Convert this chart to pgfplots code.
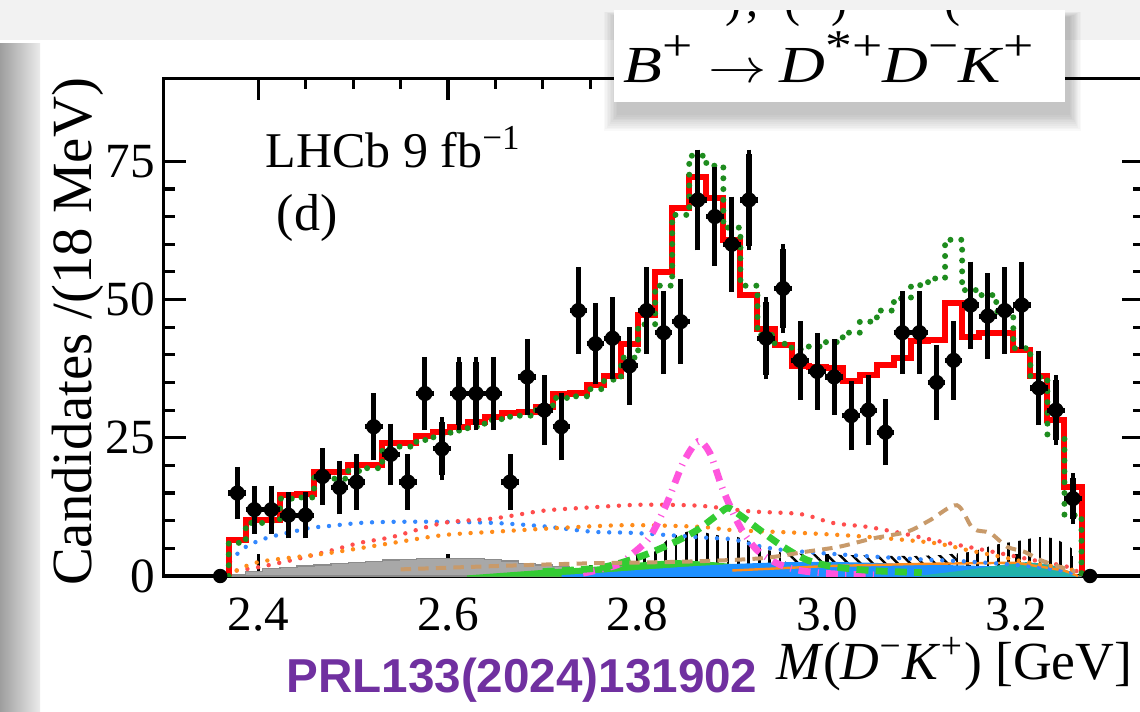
\documentclass[border=0pt]{standalone}
\usepackage{pgfplots}
\pgfplotsset{compat=1.18}
\usepackage{pgfplotstable}
\usepackage{fontspec}
\setmainfont{Liberation Serif}
\newfontfamily\sansfam{Liberation Sans}
\usetikzlibrary{patterns.meta}
\definecolor{fitred}{HTML}{FF0000}
\definecolor{altgreen}{HTML}{1E8C1E}
\definecolor{bluedot}{HTML}{3388FF}
\definecolor{reddot}{HTML}{FF4D4D}
\definecolor{orangedot}{HTML}{FF8C1A}
\definecolor{magdash}{HTML}{FF55DD}
\definecolor{limedash}{HTML}{33CC33}
\definecolor{browndash}{HTML}{C89A6A}
\definecolor{grayfill}{HTML}{A8A8A8}
\definecolor{bluefill}{HTML}{1E90FF}
\definecolor{tealfill}{HTML}{20B2AA}
\definecolor{prlpurple}{HTML}{7030A0}
\def\u{0.25bp}
\newcommand\sups[1]{\raisebox{0.42em}{\fontsize{11bp}{10bp}\selectfont #1}}

\pgfdeclareplotmark{datapt}{%
  \pgfpathcircle{\pgfpointorigin}{\pgfplotmarksize}\pgfusepathqfill
  \pgfpathmoveto{\pgfqpoint{-2.2bp}{0pt}}\pgfpathlineto{\pgfqpoint{2.2bp}{0pt}}\pgfusepathqstroke}

\pgfplotstableread{
e red grn gry
2.3686 0 0 0
2.3686 6.5 6.0 0.3
2.3866 10.1 9.6 0.8
2.4046 10.1 9.8 1.3
2.4226 14.7 14.0 1.6
2.4406 14.8 14.2 1.8
2.4586 18.8 17.8 2.0
2.4766 18.9 17.6 2.2
2.4946 20.1 19.0 2.4
2.5126 20.1 19.5 2.6
2.5306 24.0 23.2 2.9
2.5486 24.0 23.4 3.0
2.5666 25.3 24.6 3.1
2.5846 26.1 25.4 3.2
2.6026 27.0 26.3 3.2
2.6206 27.8 27.0 3.1
2.6386 28.8 28.2 3.0
2.6566 29.5 28.8 2.7
2.6746 29.6 29.0 2.3
2.6926 30.6 30.0 2.0
2.7106 33.0 32.2 1.7
2.7286 33.1 32.5 1.4
2.7466 34.6 33.8 1.2
2.7646 36.2 35.5 1.0
2.7826 42.0 39.5 0.8
2.8006 47.2 45.5 0.6
2.8186 55.0 52.5 0.4
2.8366 66.5 65.3 0.2
2.8546 72.2 76.0 0
2.8726 68.3 74.2 0
2.8906 60.8 63.0 0
2.9086 50.8 52.5 0
2.9266 44.6 43.6 0
2.9446 41.7 42.0 0
2.9626 37.9 41.0 0
2.9806 37.8 41.5 0
2.9986 37.7 42.3 0
3.0166 35.2 44.0 0
3.0346 36.3 46.0 0
3.0526 38.2 48.0 0
3.0706 39.4 50.2 0
3.0886 42.5 52.6 0
3.1066 42.7 53.8 0
3.1246 49.3 60.8 0
3.1426 43.2 51.7 0
3.1606 43.9 50.8 0
3.1786 43.9 47.8 0
3.1966 40.9 41.2 0
3.2146 36.2 36.0 0
3.2326 28.3 25.2 0
3.2506 16.1 11.0 0
3.2686 0 0 0
}\modeltab

\pgfplotstableread{
x y ey
2.3776 15 3.87
2.3956 12 3.46
2.4136 12 3.46
2.4316 11 3.32
2.4496 11 3.32
2.4676 18 4.24
2.4856 16 4.00
2.5036 17 4.12
2.5216 27 5.20
2.5396 22 4.69
2.5576 17 4.12
2.5756 33 5.74
2.5936 23 4.80
2.6116 33 5.74
2.6296 33 5.74
2.6476 33 5.74
2.6656 17 4.12
2.6836 36 6.00
2.7016 30 5.48
2.7196 27 5.20
2.7376 48 6.93
2.7556 42 6.48
2.7736 43 6.56
2.7916 38 6.16
2.8096 48 6.93
2.8276 44 6.63
2.8456 46 6.78
2.8636 68 8.25
2.8816 65 8.06
2.8996 60 7.75
2.9176 68 8.25
2.9356 43 6.56
2.9536 52 7.21
2.9716 39 6.24
2.9896 37 6.08
3.0076 36 6.00
3.0256 29 5.39
3.0436 30 5.48
3.0616 26 5.10
3.0796 44 6.63
3.0976 44 6.63
3.1156 35 5.92
3.1336 39 6.24
3.1516 49 7.00
3.1696 47 6.86
3.1876 48 6.93
3.2056 49 7.00
3.2236 34 5.83
3.2416 30 5.48
3.2596 14 3.74
}\datatab

\pgfplotstableread{
x y
2.370 2.6
2.384 5.0
2.402 6.5
2.420 7.4
2.436 8.0
2.454 8.7
2.472 9.0
2.507 9.6
2.542 9.8
2.595 9.8
2.648 9.6
2.700 9.0
2.753 8.0
2.795 7.8
2.866 7.0
2.901 6.6
2.926 5.5
2.954 4.7
3.006 4.0
3.050 3.5
3.100 3.0
3.150 2.6
3.200 2.0
3.240 1.2
3.268 0.2
}\bluetab

\pgfplotstableread{
x y
2.377 1.0
2.400 1.6
2.436 2.9
2.472 4.4
2.507 6.0
2.542 7.1
2.595 9.6
2.648 10.4
2.700 11.8
2.740 12.3
2.789 12.8
2.813 12.9
2.866 12.7
2.919 11.7
2.972 11.2
3.006 9.6
3.042 8.9
3.077 7.8
3.112 6.5
3.148 5.3
3.183 4.1
3.217 2.9
3.253 1.7
3.267 0.5
}\reddottab

\pgfplotstableread{
x y
2.377 1.0
2.402 2.6
2.472 4.1
2.542 6.0
2.595 7.4
2.648 8.0
2.718 8.7
2.789 9.2
2.866 8.9
2.901 8.3
2.972 7.8
3.042 7.1
3.112 6.0
3.148 4.7
3.183 3.5
3.217 2.3
3.253 1.4
3.267 0.5
}\orangetab

\pgfplotstableread{
x y
2.7425 0.5
2.7784 2.0
2.7953 4.1
2.8132 7.1
2.8311 13.2
2.8480 20.4
2.8638 24.3
2.8765 22.2
2.8902 15.6
2.9082 8.9
2.9261 4.7
2.9472 2.3
2.9715 1.0
3.0064 0.4
3.0500 0.2
}\magtab

\pgfplotstableread{
x y
2.7000 0.8
2.7604 1.5
2.8027 3.5
2.8375 6.0
2.8628 8.3
2.8839 11.0
2.8955 12.3
2.9082 11.0
2.9293 8.3
2.9536 5.3
2.9789 2.9
3.0064 1.7
3.0454 1.0
3.1000 0.6
}\limetab

\pgfplotstableread{
x y
2.550 1.2
2.650 1.8
2.750 2.3
2.850 2.6
2.930 3.2
2.978 4.4
3.013 5.3
3.0485 6.8
3.0844 8.0
3.1087 10.1
3.137 12.8
3.154 8.6
3.172 7.8
3.190 5.3
3.208 4.4
3.225 2.9
3.245 1.7
3.262 0.8
}\browntab

\pgfplotstableread{
x y
2.780 0
2.785 2.0
2.800 2.8
2.8097 3.5
2.8203 4.7
2.8308 6.5
2.8414 7.4
2.8519 8.0
2.8625 8.3
2.8730 7.8
2.8836 7.4
2.8941 7.1
2.9047 7.1
2.9153 6.5
2.9258 5.6
2.9364 4.7
2.9575 4.1
2.9600 0
}\hatchA

\pgfplotstableread{
x y
2.956 0
2.956 4.1
3.000 3.9
3.050 3.7
3.090 3.6
3.120 3.8
3.138 4.1
3.138 0
}\hatchB

\pgfplotstableread{
x y
3.136 0
3.137 4.1
3.154 4.4
3.1755 5.6
3.1966 6.2
3.2072 6.5
3.2177 6.9
3.2283 7.1
3.2400 6.8
3.2494 6.0
3.2583 5.0
3.2620 0
}\hatchC

\pgfplotstableread{
x y
2.62 0
2.66 0.5
2.70 1.0
2.75 1.5
2.80 2.3
2.84 2.8
2.88 2.4
2.92 1.7
2.96 1.0
3.00 0.6
3.10 0.4
3.20 0.4
3.26 0
}\greenfilltab

\pgfplotstableread{
x y
2.72 0
2.76 0.4
2.80 0.9
2.85 1.5
2.90 2.0
2.95 2.3
3.00 2.4
3.05 2.2
3.10 1.9
3.15 1.7
3.20 1.5
3.24 0.8
3.265 0
}\bluefilltab

\pgfplotstableread{
x y
3.10 0
3.14 0.8
3.18 1.8
3.21 2.4
3.235 2.0
3.255 0.8
3.265 0
}\tealtab

\pgfplotstableread{
x y
2.90 1.0
3.00 1.8
3.10 2.2
3.20 2.4
3.25 1.0
3.265 0
}\orangesolidtab

\begin{document}
\begin{tikzpicture}
% background
\fill[white] (0,0) rectangle ({1140*\u},{711*\u});
\fill[black!5] (0,{671*\u}) rectangle ({1140*\u},{711*\u});
\shade[left color=black!38, right color=black!8] (0,0) rectangle ({40*\u},{668*\u});

\begin{axis}[
  at={({163.75*\u},{135*\u})}, anchor=south west,
  scale only axis, width=245.16bp, height=124.43bp,
  xmin=2.3, xmax=3.335, ymin=0, ymax=90,
  xtick={2.4,2.6,2.8,3.0,3.2}, minor x tick num=3,
  ytick={0,25,50,75}, minor y tick num=4,
  tick pos=both, tick align=inside,
  major tick length=5.5bp, minor tick length=2.75bp,
  axis line style={line width=0.8bp, black},
  every tick/.style={line width=0.8bp, black},
  /pgf/number format/assume math mode=true,
  ticklabel style={font=\fontsize{12.3bp}{13bp}\selectfont},
  xticklabel style={/pgf/number format/.cd, fixed, fixed zerofill, precision=1, /tikz/.cd, inner sep=0pt, yshift=-5.3bp},
  yticklabel style={inner sep=0pt, xshift=-2bp},
  clip=true,
]
% gray histogram
\addplot[const plot, fill=grayfill, draw=black!45, line width=0.3bp] table[x=e,y=gry]{\modeltab} \closedcycle;
% hatched areas
\addplot[draw=none, pattern={Lines[angle=90,distance=2.6bp,line width=0.7bp]}, pattern color=black] table{\hatchA} \closedcycle;
\addplot[draw=none, pattern={Lines[angle=-45,distance=2.2bp,line width=0.6bp]}, pattern color=black] table{\hatchB} \closedcycle;
\addplot[draw=none, pattern={Lines[angle=90,distance=2.6bp,line width=0.7bp]}, pattern color=black] table{\hatchC} \closedcycle;
% small stacked components
\addplot[draw=limedash, fill=limedash, line width=0.3bp] table{\greenfilltab} \closedcycle;
\addplot[draw=bluefill, fill=bluefill, line width=0.5bp] table{\bluefilltab} \closedcycle;
\addplot[draw=tealfill, fill=tealfill, line width=0.3bp] table{\tealtab} \closedcycle;
\addplot[draw=orangedot, line width=0.6bp] table{\orangesolidtab};
% dotted components
\addplot[bluedot, smooth, line width=1.1bp, line cap=round, dash pattern=on 0pt off 2.7bp] table{\bluetab};
\addplot[reddot, smooth, line width=1.1bp, line cap=round, dash pattern=on 0pt off 2.7bp] table{\reddottab};
\addplot[orangedot, smooth, line width=1.1bp, line cap=round, dash pattern=on 0pt off 2.7bp] table{\orangetab};
% resonances
\addplot[magdash, smooth, line width=1.7bp, dash pattern=on 3bp off 1.8bp on 0.3bp off 1.8bp] table{\magtab};
\addplot[limedash, smooth, line width=1.7bp, dash pattern=on 3bp off 1.8bp] table{\limetab};
\addplot[browndash, smooth, line width=1bp, dash pattern=on 2.6bp off 1.8bp] table{\browntab};
% total fit
\addplot[fitred, const plot, line width=1.5bp] table[x=e,y=red]{\modeltab};
% alternative fit
\addplot[altgreen, const plot, line width=1.5bp, line cap=round, dash pattern=on 0pt off 2.7bp] table[x=e,y=grn]{\modeltab};
% data
\addplot[black, only marks, mark=datapt, mark size=1.9bp, mark options={line width=1.3bp},
  error bars/.cd, y dir=both, y explicit,
  error bar style={line width=1.3bp, black},
  error mark options={mark size=1.2bp, line width=1.2bp, black}]
  table[x=x, y=y, y error=ey]{\datatab};
\addplot[black, only marks, mark=*, mark size=1.6bp] coordinates {(2.3596,0) (3.2776,0)};
\end{axis}

% texts
\node[rotate=90, font=\fontsize{14.2bp}{16bp}\selectfont] at ({78*\u},{379*\u}) {Candidates /(18 MeV)};
\node[anchor=base west, font=\fontsize{12.5bp}{15bp}\selectfont, inner sep=0pt] at ({265*\u},{544*\u}) {LHCb 9 fb\textsuperscript{−1}};
\node[anchor=base west, font=\fontsize{13bp}{15bp}\selectfont, inner sep=0pt] at ({276*\u},{481*\u}) {(d)};
\node[anchor=base east, font=\fontsize{13.4bp}{16bp}\selectfont, inner sep=0pt] at ({1133*\u},{32*\u}) {\textit{M}(\textit{D}\textsuperscript{−}\textit{K}\textsuperscript{+}) [GeV]};
\node[font=\sansfam\bfseries\fontsize{11.9bp}{14bp}\selectfont, text=prlpurple] at ({522*\u},{31*\u}) {PRL133(2024)131902};

% title box with soft shadow
\foreach \i in {0,...,9}{
  \fill[black, opacity=0.022] ({(617-\i*1.5)*\u},{(596-\i*1.8)*\u}) rectangle ({(1070+\i*1.2)*\u},{(694+\i*0.6)*\u});
}
\fill[white] ({614*\u},{609.5*\u}) rectangle ({1065*\u},{701*\u});
\begin{scope}
\clip ({614*\u},{609.5*\u}) rectangle ({1065*\u},{701*\u});
\foreach \xx/\ch in {733/), 752/{,}, 792/(, 839/), 952/(}{
  \node[anchor=base, font=\fontsize{12bp}{14bp}\selectfont, inner sep=0pt] at ({\xx*\u},{695*\u}) {\ch};
}
\end{scope}
\node[anchor=base west, inner sep=0pt, font=\fontsize{13bp}{14bp}\selectfont] at ({623*\u},{629*\u}) {\scalebox{1.22}[1]{\textit{B}\sups{+}\hspace{0.25em}$\rightarrow$\hspace{0.2em}\textit{D}\sups{*+}\textit{D}\sups{−}\textit{K}\sups{+}}};

\pgfresetboundingbox
\path (0,0) rectangle ({1140*\u},{711*\u});
\end{tikzpicture}
\end{document}
